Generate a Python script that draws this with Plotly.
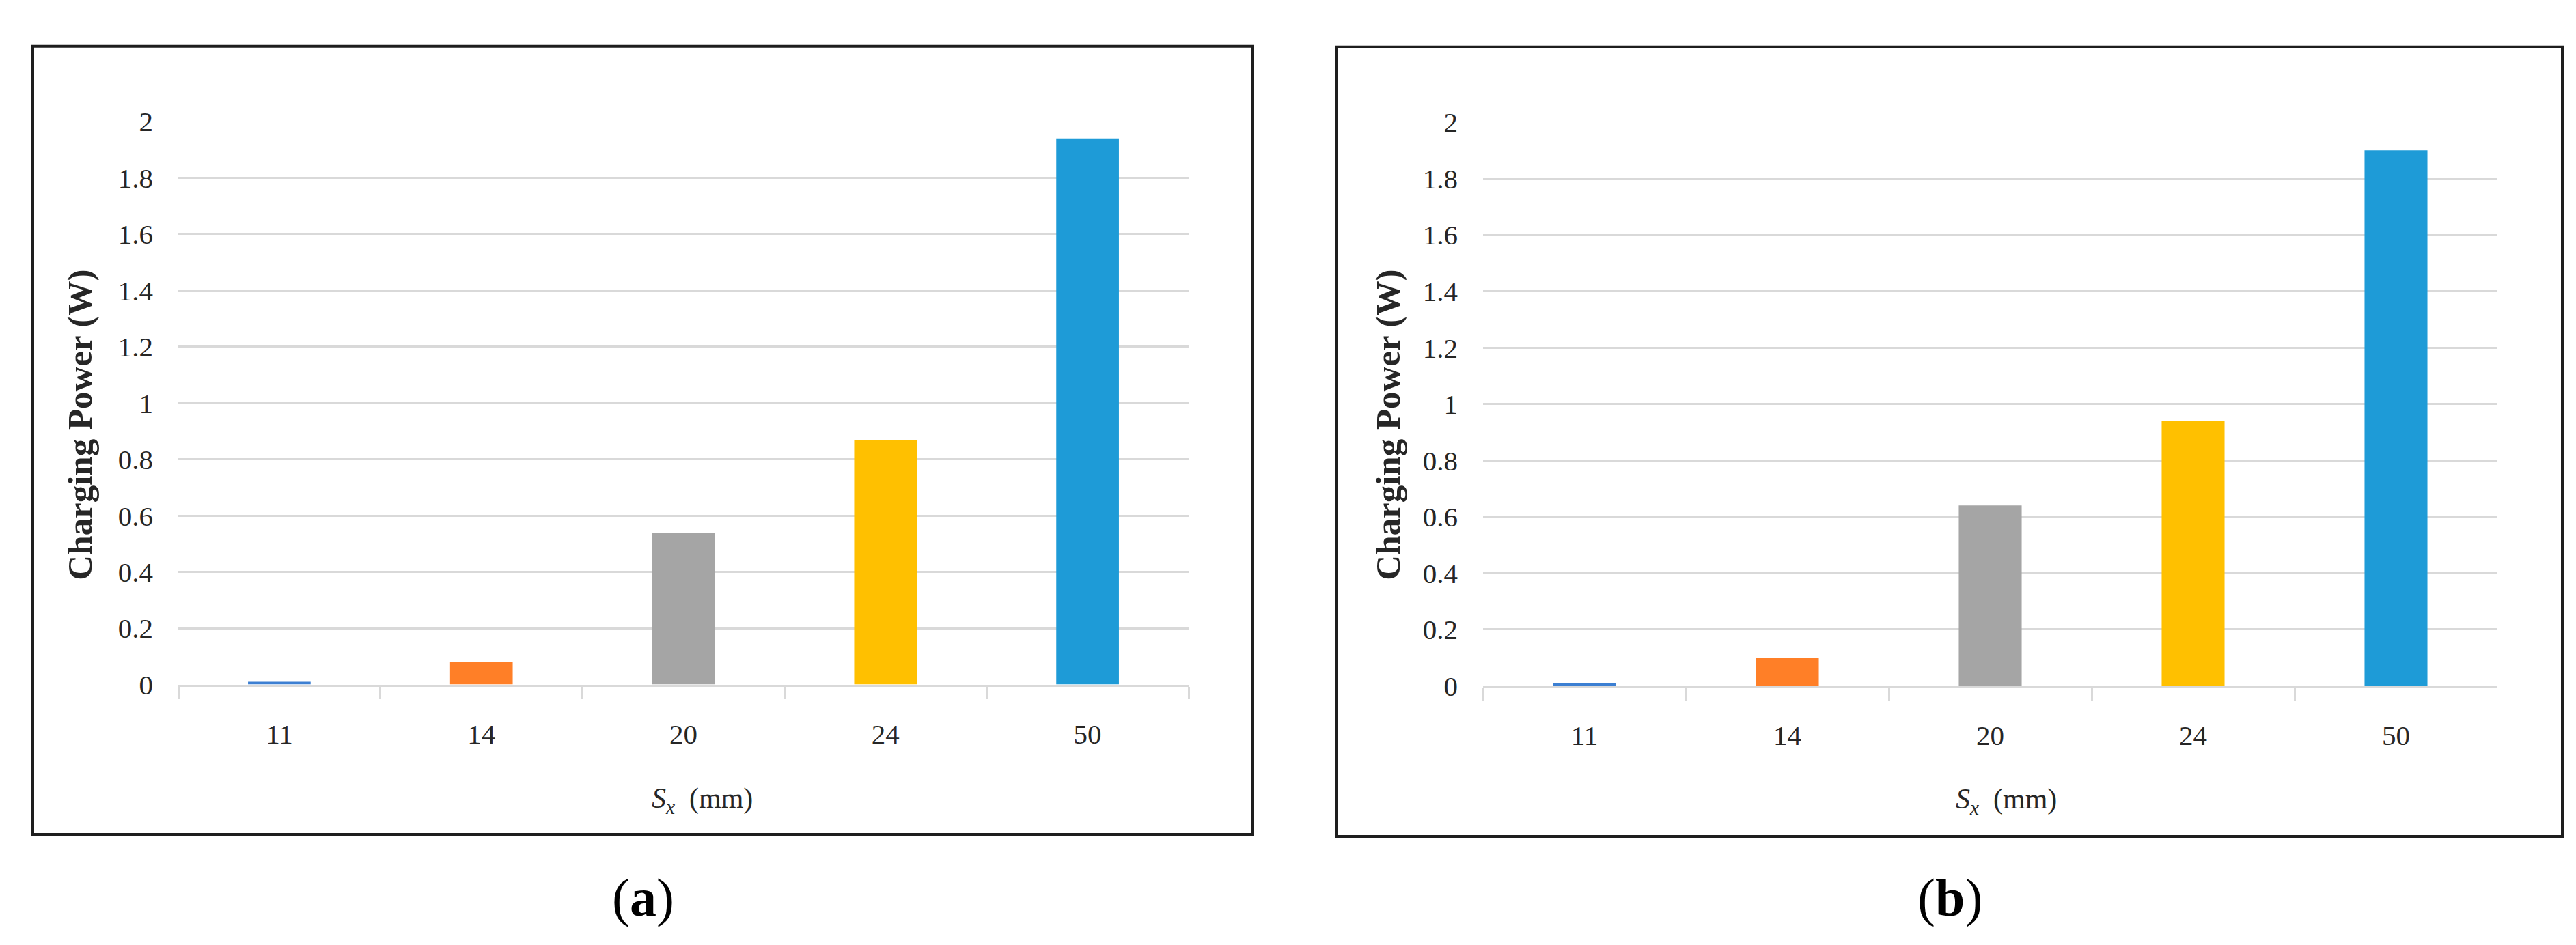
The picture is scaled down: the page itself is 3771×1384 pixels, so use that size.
import plotly.graph_objects as go

W, H = 3771, 1384

categories = ["11", "14", "20", "24", "50"]
power_a = [0.01, 0.08, 0.54, 0.87, 1.94]
power_b = [0.01, 0.10, 0.64, 0.94, 1.90]
bar_colors = ["#3C7FD2", "#FF7F27", "#A5A5A5", "#FFC000", "#1E9BD7"]
y_ticks = [0, 0.2, 0.4, 0.6, 0.8, 1, 1.2, 1.4, 1.6, 1.8, 2]
y_ticktext = ["0", "0.2", "0.4", "0.6", "0.8", "1", "1.2", "1.4", "1.6", "1.8", "2"]
panel_labels = ["(<b>a</b>)", "(<b>b</b>)"]

def px_x(p):
    return p / W

def px_y(p):
    return 1 - p / H

SERIF = "Liberation Serif, Times New Roman, serif"
TICK_FONT = dict(family=SERIF, size=41, color="#262626")
TITLE_FONT = dict(family=SERIF, size=51, color="#262626", weight="bold")
GRID = "#D9D9D9"

fig = go.Figure()
fig.add_trace(go.Bar(x=categories, y=power_a, marker_color=bar_colors,
                     marker_line_width=0, xaxis="x", yaxis="y", showlegend=False))
fig.add_trace(go.Bar(x=categories, y=power_b, marker_color=bar_colors,
                     marker_line_width=0, xaxis="x2", yaxis="y2", showlegend=False))

# panel geometry in pixels: plot area (left, right, top(y=2), bottom(y=0)), box
panels = [
    dict(pl=253, pr=1732, pt=152, pb=1005, box=(40, 38, 1826, 1232),
         ytitle=(109, 612), xtitle=(1020, 1180), lab=(933, 1328)),
    dict(pl=2163, pr=3648, pt=153, pb=1007, box=(1948, 39, 3743, 1235),
         ytitle=(2024, 612), xtitle=(2929, 1181), lab=(2846, 1328)),
]

layout = dict(
    width=W, height=H,
    margin=dict(l=0, r=0, t=0, b=0),
    paper_bgcolor="white", plot_bgcolor="white",
    bargap=0.69,
    shapes=[], annotations=[],
)

for i, p in enumerate(panels):
    sfx = "" if i == 0 else str(i + 1)
    layout["xaxis" + sfx] = dict(
        domain=[px_x(p["pl"]), px_x(p["pr"])],
        anchor="y" + sfx, type="category",
        showgrid=False, showline=True, linecolor=GRID, linewidth=3,
        ticks="outside", tickson="boundaries", ticklen=18, tickwidth=3, tickcolor=GRID,
        tickfont=TICK_FONT, ticklabelstandoff=34, zeroline=False,
    )
    layout["yaxis" + sfx] = dict(
        domain=[px_y(p["pb"]), px_y(p["pt"])],
        anchor="x" + sfx, range=[0, 2],
        tickvals=y_ticks, ticktext=y_ticktext,
        showgrid=True, gridcolor=GRID, gridwidth=3,
        showline=False, zeroline=False, ticks="",
        tickfont=TICK_FONT, ticklabelstandoff=36,
    )
    x0, y0, x1, y1 = p["box"]
    layout["shapes"].append(dict(
        type="rect", xref="paper", yref="paper",
        x0=px_x(x0), x1=px_x(x1), y0=px_y(y1), y1=px_y(y0),
        line=dict(color="#1E1E1E", width=4), fillcolor="rgba(0,0,0,0)", layer="above"))
    layout["annotations"].append(dict(
        text="Charging Power (W)", textangle=-90, showarrow=False,
        xref="paper", yref="paper", x=px_x(p["ytitle"][0]), y=px_y(p["ytitle"][1]),
        xanchor="center", yanchor="middle", font=TITLE_FONT))
    layout["annotations"].append(dict(
        text="<i>S<sub>x</sub></i>  (mm)", showarrow=False,
        xref="paper", yref="paper", x=px_x(p["xtitle"][0]), y=px_y(p["xtitle"][1]),
        xanchor="center", yanchor="middle",
        font=dict(family=SERIF, size=42, color="#262626")))
    layout["annotations"].append(dict(
        text=panel_labels[i], showarrow=False,
        xref="paper", yref="paper", x=px_x(p["lab"][0]), y=px_y(p["lab"][1]),
        xanchor="center", yanchor="middle",
        font=dict(family=SERIF, size=78, color="black")))

fig.update_layout(**layout)
fig.write_html("out.html")
